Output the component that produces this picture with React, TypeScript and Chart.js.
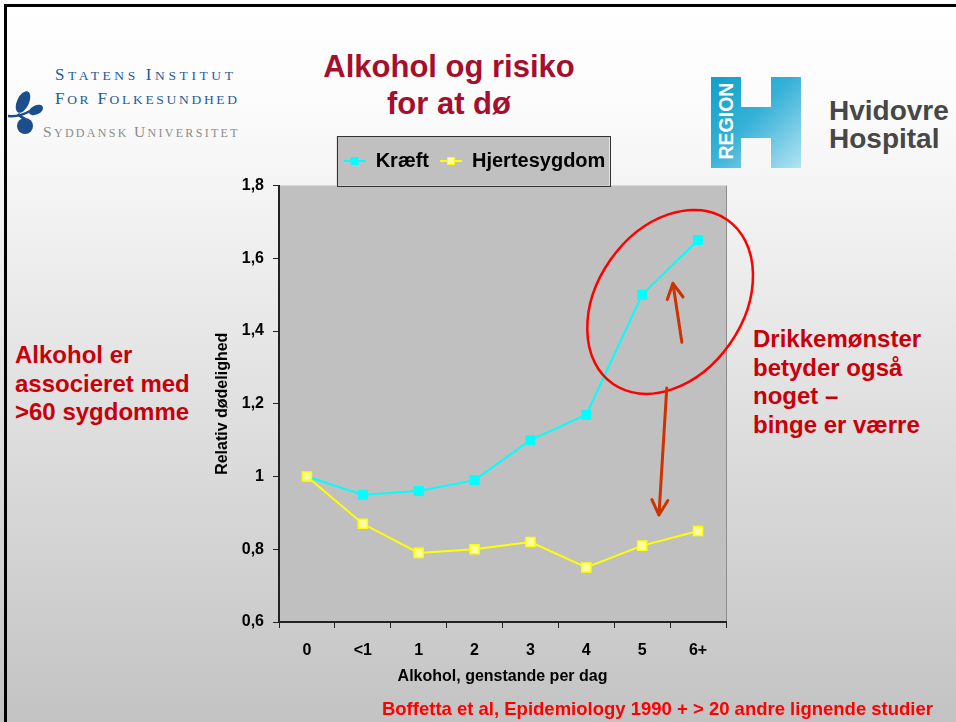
import React, { useEffect, useRef } from "react";
import { Chart, registerables } from "chart.js";

Chart.register(...registerables);

// ---- data ----
const categories = ["0", "<1", "1", "2", "3", "4", "5", "6+"];
const kraeft = [1.0, 0.95, 0.96, 0.99, 1.1, 1.17, 1.5, 1.65];
const hjertesygdom = [1.0, 0.87, 0.79, 0.8, 0.82, 0.75, 0.81, 0.85];
const yMin = 0.6;
const yMax = 1.8;
const yStep = 0.2;

const seriesNames = ["Kræft", "Hjertesygdom"];
const xTitle = "Alkohol, genstande per dag";
const yTitle = "Relativ dødelighed";

// annotation anchors (category index, value)
const ellipseCenter = [6.5, 1.48];
const arrowUp = [[6.71, 1.369], [6.55, 1.531]];
const arrowDown = [[6.44, 1.243], [6.3, 0.894]];

const FONT = "'Liberation Sans', Arial, Helvetica, sans-serif";

function fmt(v: number): string {
  const r = Math.round(v * 10) / 10;
  return String(r).replace(".", ",");
}

function makeMarker(line: string, fill: string, stroke: string) {
  const c = document.createElement("canvas");
  c.width = 22;
  c.height = 10;
  const g = c.getContext("2d")!;
  g.strokeStyle = line;
  g.lineWidth = 2;
  g.beginPath();
  g.moveTo(0, 5);
  g.lineTo(22, 5);
  g.stroke();
  g.fillStyle = fill;
  g.fillRect(7, 1, 8, 8);
  g.strokeStyle = stroke;
  g.lineWidth = 1;
  g.strokeRect(7.5, 1.5, 7, 7);
  return c;
}

function drawArrow(ctx: CanvasRenderingContext2D, x0: number, y0: number, x1: number, y1: number) {
  const ang = Math.atan2(y1 - y0, x1 - x0);
  const L = 17;
  const spread = (28 * Math.PI) / 180;
  ctx.beginPath();
  ctx.moveTo(x0, y0);
  ctx.lineTo(x1, y1);
  ctx.moveTo(x1 - L * Math.cos(ang - spread), y1 - L * Math.sin(ang - spread));
  ctx.lineTo(x1, y1);
  ctx.lineTo(x1 - L * Math.cos(ang + spread), y1 - L * Math.sin(ang + spread));
  ctx.stroke();
}

const slidePlugin = {
  id: "slidePlugin",
  beforeDraw(chart: any) {
    const { ctx, chartArea: a } = chart;
    ctx.save();
    ctx.fillStyle = "#c0c0c0";
    ctx.fillRect(a.left, a.top, a.right - a.left, a.bottom - a.top);
    ctx.strokeStyle = "#8c8c8c";
    ctx.lineWidth = 1;
    ctx.beginPath();
    ctx.moveTo(a.right + 0.5, a.top);
    ctx.lineTo(a.right + 0.5, a.bottom);
    ctx.stroke();
    const lg = chart.legend;
    if (lg && lg.legendHitBoxes && lg.legendHitBoxes.length) {
      const hb = lg.legendHitBoxes;
      const l = Math.min(...hb.map((h: any) => h.left)) - 7;
      const r = Math.max(...hb.map((h: any) => h.left + h.width)) + 4;
      const t = lg.top - 4;
      ctx.fillStyle = "#c0c0c0";
      ctx.fillRect(l, t, r - l, a.top - t);
      ctx.strokeStyle = "#333333";
      ctx.lineWidth = 1;
      ctx.strokeRect(Math.round(l) + 0.5, Math.round(t) + 0.5, Math.round(r - l), Math.round(a.top - t));
    }
    ctx.restore();
  },
  afterDraw(chart: any) {
    const { ctx } = chart;
    const xs = chart.scales.x;
    const ys = chart.scales.y;
    ctx.save();
    ctx.strokeStyle = "#ff0000";
    ctx.lineWidth = 2.5;
    ctx.beginPath();
    ctx.ellipse(
      xs.getPixelForValue(ellipseCenter[0]),
      ys.getPixelForValue(ellipseCenter[1]),
      100,
      73,
      (-55 * Math.PI) / 180,
      0,
      Math.PI * 2
    );
    ctx.stroke();
    ctx.strokeStyle = "#cc3300";
    ctx.lineWidth = 3;
    ctx.lineCap = "round";
    ctx.lineJoin = "round";
    for (const ar of [arrowUp, arrowDown]) {
      drawArrow(
        ctx,
        xs.getPixelForValue(ar[0][0]),
        ys.getPixelForValue(ar[0][1]),
        xs.getPixelForValue(ar[1][0]),
        ys.getPixelForValue(ar[1][1])
      );
    }
    ctx.restore();
  },
};

function ChartCanvas() {
  const ref = useRef<HTMLCanvasElement | null>(null);
  useEffect(() => {
    if (!ref.current) return;
    const markers = [
      makeMarker("#00ffff", "#00ffff", "#00ffff"),
      makeMarker("#ffff00", "#ffffa0", "#ffff00"),
    ];
    const tickFont = { family: FONT, size: 16, weight: "bold" as const };
    const chart = new Chart(ref.current, {
      type: "line",
      data: {
        labels: categories,
        datasets: [
          {
            label: seriesNames[0],
            data: kraeft,
            borderColor: "#00ffff",
            backgroundColor: "#00ffff",
            borderWidth: 2,
            pointStyle: "rect",
            pointRadius: 6.4,
            pointBackgroundColor: "#00ffff",
            pointBorderColor: "#00ffff",
            pointBorderWidth: 1,
            order: 1,
          },
          {
            label: seriesNames[1],
            data: hjertesygdom,
            borderColor: "#ffff00",
            backgroundColor: "#ffffa0",
            borderWidth: 2,
            pointStyle: "rect",
            pointRadius: 6.4,
            pointBackgroundColor: "#ffffa0",
            pointBorderColor: "#ffff00",
            pointBorderWidth: 1.5,
            order: 0,
          },
        ],
      },
      options: {
        animation: false,
        responsive: false,
        devicePixelRatio: 1,
        events: [],
        layout: { padding: { left: 223, right: 230, top: 140, bottom: 0 } },
        plugins: {
          tooltip: { enabled: false },
          legend: {
            display: true,
            position: "top",
            weight: 2000,
            labels: {
              usePointStyle: true,
              pointStyleWidth: 22,
              padding: 11,
              color: "#000000",
              font: { family: FONT, size: 20, weight: "bold" },
              sort: (a: any, b: any) => a.datasetIndex - b.datasetIndex,
              generateLabels: (chart: any) => {
                const items = Chart.defaults.plugins.legend.labels.generateLabels(chart);
                return items.map((it: any) => ({ ...it, pointStyle: markers[it.datasetIndex] }));
              },
            },
          } as any,
          subtitle: {
            display: true,
            text: "",
            font: { size: 1, lineHeight: 1 },
            padding: { top: 3.5, bottom: 0 },
          } as any,
        },
        scales: {
          x: {
            type: "category",
            offset: true,
            grid: { offset: true, drawOnChartArea: false, drawTicks: true, tickLength: 6, color: "#222222", lineWidth: 1 },
            border: { display: true, color: "#222222", width: 2 },
            ticks: { color: "#000000", font: tickFont, padding: 13, maxRotation: 0, autoSkip: false },
            title: {
              display: true,
              text: xTitle,
              color: "#000000",
              font: { family: FONT, size: 16, weight: "bold" },
              padding: { top: 0, bottom: 36 },
            },
            afterFit: (s: any) => {
              s.height = 100;
            },
          } as any,
          y: {
            min: yMin,
            max: yMax,
            grid: { drawOnChartArea: false, drawTicks: true, tickLength: 6, color: "#222222", lineWidth: 1 },
            border: { display: true, color: "#222222", width: 2 },
            ticks: {
              stepSize: yStep,
              color: "#000000",
              font: tickFont,
              padding: 9,
              callback: (v: any) => fmt(Number(v)),
            },
            title: {
              display: true,
              text: yTitle,
              color: "#000000",
              font: { family: FONT, size: 16, weight: "bold" },
              padding: { top: -10, bottom: 0 },
            },
            afterFit: (s: any) => {
              s.width = 56;
            },
          } as any,
        },
      },
      plugins: [slidePlugin],
    });
    return () => chart.destroy();
  }, []);
  return (
    <canvas
      ref={ref}
      width={956}
      height={722}
      style={{ position: "absolute", left: 0, top: 0, width: 956, height: 722 }}
    />
  );
}

function SmallCaps(props: {
  words: string[];
  big: number;
  small: number;
  spacing: number;
  color: string;
  left: number;
  top: number;
}) {
  const serif = "'Liberation Serif', 'DejaVu Serif', serif";
  return (
    <div
      style={{
        position: "absolute",
        left: props.left,
        top: props.top,
        fontFamily: serif,
        lineHeight: "20px",
        height: 20,
        letterSpacing: props.spacing,
        color: props.color,
        whiteSpace: "nowrap",
      }}
    >
      {props.words.map((w, i) => (
        <React.Fragment key={i}>
          {i > 0 ? <span style={{ fontSize: props.small }}> </span> : null}
          <span style={{ fontSize: props.big }}>{w[0]}</span>
          <span style={{ fontSize: props.small }}>{w.slice(1)}</span>
        </React.Fragment>
      ))}
    </div>
  );
}

export default function App() {
  const abs = (o: React.CSSProperties): React.CSSProperties => ({ position: "absolute", ...o });
  return (
    <div
      style={{
        position: "absolute",
        left: 0,
        top: 0,
        width: 956,
        height: 722,
        overflow: "hidden",
        background: "linear-gradient(180deg, #ffffff 0px, #fbfbfb 110px, #c3c3c3 722px)",
        fontFamily: FONT,
      }}
    >
      {/* slide frame */}
      <div style={abs({ left: 4, top: 4, width: 952, height: 3, background: "#000" })} />
      <div style={abs({ left: 4, top: 4, width: 3, height: 718, background: "#000" })} />

      {/* left logo */}
      <svg style={abs({ left: 0, top: 85, width: 50, height: 55 })} viewBox="0 85 50 55">
        <path d="M8 116 Q20 117 30 111" stroke="#1c4d8c" strokeWidth={2.5} fill="none" />
        <ellipse cx={23} cy={102} rx={6} ry={11.5} fill="#1c4d8c" transform="rotate(25 23 102)" />
        <ellipse cx={36} cy={110} rx={7.5} ry={4.5} fill="#1c4d8c" transform="rotate(-25 36 110)" />
        <circle cx={25} cy={126} r={8} fill="#1c4d8c" />
        <path d="M18 114 Q22 118 25 119" stroke="#1c4d8c" strokeWidth={3} fill="none" />
      </svg>
      <SmallCaps words={["STATENS", "INSTITUT"]} big={17} small={13.5} spacing={3.6} color="#1f5a99" left={55} top={65} />
      <SmallCaps words={["FOR", "FOLKESUNDHED"]} big={17} small={13.5} spacing={2.7} color="#1f5a99" left={55} top={88.5} />
      <SmallCaps words={["SYDDANSK", "UNIVERSITET"]} big={15.5} small={12} spacing={2.3} color="#8c8c8c" left={43} top={121.5} />

      {/* title */}
      <div
        style={abs({
          left: 0,
          width: 898,
          top: 47.8,
          textAlign: "center",
          fontSize: 31,
          fontWeight: "bold",
          lineHeight: "37.3px",
          color: "#a50f2d",
        })}
      >
        Alkohol og risiko
        <br />
        for at dø
      </div>

      {/* right logo */}
      <div
        style={abs({
          left: 711,
          top: 77,
          width: 90,
          height: 91,
          background: "linear-gradient(135deg, #10a0c8 0%, #35b1d6 45%, #b2e3f2 100%)",
          clipPath:
            "polygon(0px 0px, 30px 0px, 30px 30px, 60px 30px, 60px 0px, 90px 0px, 90px 91px, 60px 91px, 60px 61px, 30px 61px, 30px 91px, 0px 91px)",
        })}
      />
      <div
        style={abs({
          left: 676,
          top: 109,
          width: 100,
          height: 24,
          lineHeight: "24px",
          textAlign: "center",
          color: "#ffffff",
          fontWeight: "bold",
          fontSize: 19.5,
          transform: "rotate(-90deg)",
        })}
      >
        REGION
      </div>
      <div
        style={abs({
          left: 829,
          top: 96.8,
          fontSize: 28,
          fontWeight: "bold",
          lineHeight: "28px",
          color: "#474747",
          whiteSpace: "nowrap",
        })}
      >
        Hvidovre
        <br />
        Hospital
      </div>

      {/* side texts */}
      <div
        style={abs({
          left: 15,
          top: 341,
          fontSize: 24,
          fontWeight: "bold",
          lineHeight: "28.5px",
          color: "#c8000a",
          whiteSpace: "nowrap",
        })}
      >
        Alkohol er
        <br />
        associeret med
        <br />
        &gt;60 sygdomme
      </div>
      <div
        style={abs({
          left: 753,
          top: 325,
          fontSize: 24,
          fontWeight: "bold",
          lineHeight: "28.5px",
          color: "#c8000a",
          whiteSpace: "nowrap",
        })}
      >
        Drikkemønster
        <br />
        betyder også
        <br />
        noget –
        <br />
        binge er værre
      </div>

      <ChartCanvas />

      <div
        style={abs({
          right: 23,
          top: 700,
          fontSize: 18.5,
          fontWeight: "bold",
          lineHeight: "18px",
          color: "#ff0000",
          whiteSpace: "nowrap",
        })}
      >
        Boffetta et al, Epidemiology 1990 + &gt; 20 andre lignende studier
      </div>
    </div>
  );
}
